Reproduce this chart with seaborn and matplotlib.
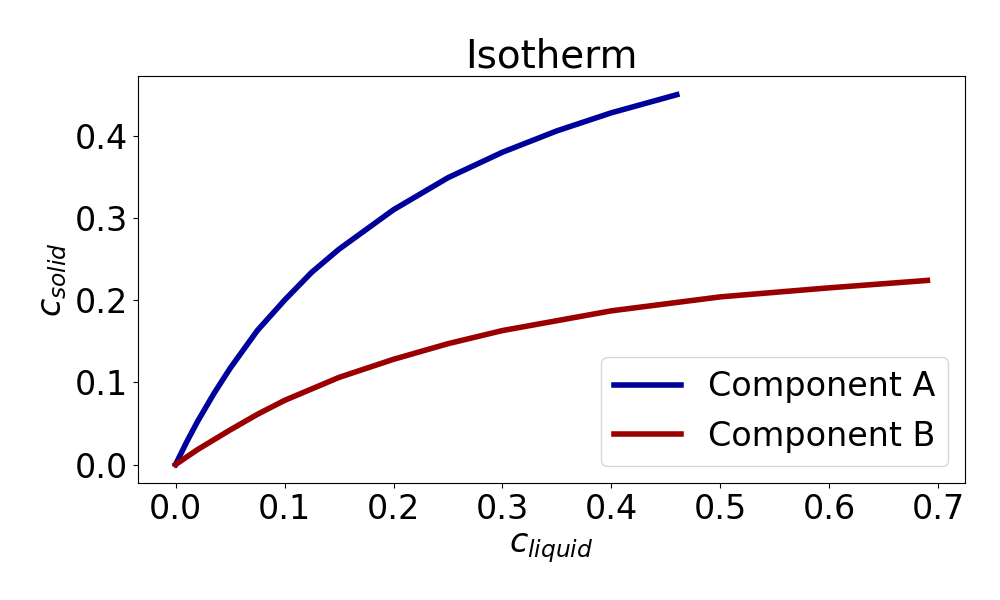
import numpy as np
import pandas as pd
import matplotlib
matplotlib.use("Agg")
import matplotlib.pyplot as plt
import seaborn as sns

# values
c_liquid_a = [0.0, 0.01, 0.02, 0.035, 0.05, 0.075, 0.1, 0.125, 0.15, 0.2, 0.25, 0.3, 0.35, 0.4, 0.46]
c_solid_a = [0.0, 0.027, 0.052, 0.086, 0.117, 0.163, 0.200, 0.234, 0.262, 0.310, 0.349, 0.380, 0.406, 0.428, 0.450]
c_liquid_b = [0.0, 0.02, 0.05, 0.075, 0.1, 0.15, 0.2, 0.25, 0.3, 0.4, 0.5, 0.6, 0.69]
c_solid_b = [0.0, 0.018, 0.042, 0.061, 0.078, 0.106, 0.128, 0.147, 0.163, 0.187, 0.204, 0.215, 0.224]

df = pd.concat([
    pd.DataFrame({"cl": c_liquid_a, "cs": c_solid_a, "comp": "Component A"}),
    pd.DataFrame({"cl": c_liquid_b, "cs": c_solid_b, "comp": "Component B"}),
])

fig, ax = plt.subplots(figsize=(10, 6), dpi=100)
sns.lineplot(data=df, x="cl", y="cs", hue="comp", sort=False, ax=ax,
             palette={"Component A": "#00009b", "Component B": "#9b0000"}, linewidth=4)
ax.set_title("Isotherm", fontsize=28)
ax.set_xlabel("$c_{liquid}$", fontsize=24)
ax.set_ylabel("$c_{solid}$", fontsize=24)
ax.tick_params(labelsize=24)
ax.set_xticks(np.arange(0, 0.71, 0.1))
ax.set_yticks(np.arange(0, 0.41, 0.1))
ax.legend(title=None, fontsize=24, loc="lower right")
plt.subplots_adjust(left=0.138, right=0.965, top=0.873, bottom=0.195)
plt.savefig("out.png")
